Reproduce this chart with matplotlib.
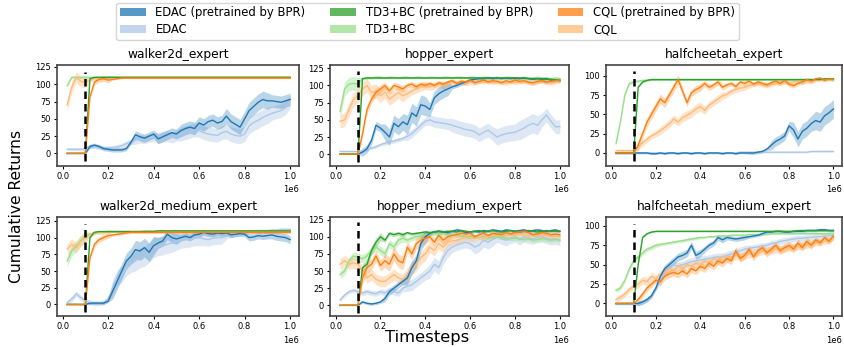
import numpy as np
import matplotlib.pyplot as plt
from matplotlib.patches import Patch

# timesteps: 0.02e6 ... 1.0e6
steps = np.round(np.arange(1, 51) * 0.02, 2) * 1e6

# ---------------- walker2d_expert ----------------
we_edac_bpr = [0, 0, 0, 0, 0, 10, 12, 10, 7, 6, 5, 5, 5, 7, 16, 27, 24, 22, 25, 28,
               21, 24, 27, 30, 28, 33, 36, 38, 36, 44, 41, 46, 48, 44, 46, 54, 46, 42, 38, 50,
               62, 68, 74, 78, 76, 76, 75, 74, 76, 78]
we_edac = [6, 6, 6, 6, 7, 11, 10, 9, 8, 8, 8, 9, 11, 14, 17, 19, 21, 20, 22, 24,
           22, 24, 25, 23, 26, 28, 30, 32, 34, 33, 30, 28, 27, 26, 30, 32, 28, 26, 25, 28,
           40, 45, 48, 52, 55, 58, 60, 62, 66, 75]
we_td3_bpr = [0, 0, 0, 0, 0, 108, 110, 110, 110, 110, 110, 110, 110, 110, 110, 110, 110, 110, 110, 110,
              110, 110, 110, 110, 110, 110, 110, 110, 110, 110, 110, 110, 110, 110, 110, 110, 110, 110, 110, 110,
              110, 110, 110, 110, 110, 110, 110, 110, 110, 110]
we_td3 = [98, 110, 110, 110, 110, 110, 110, 110, 110, 110, 110, 110, 110, 110, 110, 110, 110, 110, 110, 110,
          110, 110, 110, 110, 110, 110, 110, 110, 110, 110, 110, 110, 110, 110, 110, 110, 110, 110, 110, 110,
          110, 110, 110, 110, 110, 110, 110, 110, 110, 110]
we_cql_bpr = [0, 0, 0, 0, 0, 82, 103, 107, 108, 106, 107, 108, 109, 109, 109, 109, 109, 109, 109, 109,
              109, 109, 109, 109, 109, 109, 109, 109, 109, 109, 109, 109, 109, 109, 109, 109, 109, 109, 109, 109,
              109, 109, 109, 109, 109, 109, 109, 109, 109, 109]
we_cql = [70, 96, 110, 104, 103, 106, 108, 109, 110, 110, 110, 110, 110, 110, 110, 110, 110, 110, 110, 110,
          110, 110, 110, 110, 110, 110, 110, 110, 110, 110, 110, 110, 110, 110, 110, 110, 110, 110, 110, 110,
          110, 110, 110, 110, 110, 110, 110, 110, 110, 110]
we_sd = {"edac_bpr": [0, 3, 3, 6, 7, 9, 9, 11, 12, 9], "edac": [2, 3, 4, 6, 8, 10, 10, 11, 12, 10],
         "td3_bpr": [0, 1, 1, 1, 1, 1, 1, 1, 1, 1], "td3": [2, 1, 1, 1, 1, 1, 1, 1, 1, 1],
         "cql_bpr": [0, 4, 1, 1, 1, 1, 1, 1, 1, 1], "cql": [8, 3, 1, 1, 1, 1, 1, 1, 1, 1]}

# ---------------- hopper_expert ----------------
he_edac_bpr = [0, 0, 0, 0, 0, 3, 8, 20, 42, 38, 32, 25, 45, 40, 47, 43, 60, 55, 72, 70,
               65, 82, 88, 92, 95, 98, 100, 103, 105, 108, 109, 110, 110, 111, 110, 111, 110, 111, 110, 111,
               110, 111, 110, 109, 110, 109, 110, 108, 108, 107]
he_edac = [4, 4, 4, 4, 4, 5, 7, 9, 11, 14, 16, 18, 19, 21, 23, 26, 30, 36, 42, 48,
           50, 47, 46, 45, 44, 42, 40, 38, 36, 35, 33, 28, 32, 35, 30, 25, 28, 30, 31, 32,
           35, 38, 42, 45, 42, 50, 57, 48, 40, 40]
he_td3_bpr = [0, 0, 0, 0, 0, 110, 111, 111, 111, 111, 111, 111, 111, 111, 111, 111, 111, 111, 111, 111,
              111, 111, 111, 111, 111, 111, 111, 111, 111, 111, 111, 111, 111, 111, 111, 111, 111, 111, 111, 111,
              111, 111, 110, 110, 110, 110, 109, 109, 108, 108]
he_td3 = [62, 95, 102, 103, 102, 110, 111, 111, 112, 112, 111, 112, 112, 111, 112, 112, 111, 112, 112, 111,
          112, 112, 111, 112, 112, 111, 112, 112, 111, 112, 112, 111, 112, 112, 111, 112, 111, 112, 112, 111,
          111, 112, 111, 111, 112, 111, 111, 110, 111, 110]
he_cql_bpr = [0, 0, 0, 0, 0, 30, 65, 80, 90, 95, 100, 92, 100, 98, 95, 100, 102, 98, 102, 100,
              103, 100, 104, 102, 105, 107, 103, 106, 105, 108, 104, 106, 108, 105, 107, 106, 104, 107, 105, 108,
              106, 107, 105, 104, 106, 107, 105, 106, 107, 108]
he_cql = [48, 50, 65, 80, 85, 95, 100, 90, 92, 85, 90, 80, 85, 90, 85, 88, 92, 95, 98, 100,
          98, 100, 102, 100, 102, 105, 104, 106, 103, 105, 104, 106, 105, 107, 104, 106, 105, 103, 106, 104,
          105, 106, 104, 103, 105, 106, 104, 103, 105, 106]
he_sd = {"edac_bpr": [0, 6, 12, 14, 10, 3, 2, 2, 2, 2], "edac": [1, 2, 3, 6, 8, 10, 10, 12, 14, 10],
         "td3_bpr": [0, 1, 1, 1, 1, 1, 1, 1, 1, 1], "td3": [10, 2, 1, 1, 1, 1, 1, 1, 1, 1],
         "cql_bpr": [0, 6, 5, 4, 3, 3, 3, 3, 3, 3], "cql": [10, 10, 9, 6, 5, 4, 3, 3, 3, 3]}

# ---------------- halfcheetah_expert ----------------
hce_edac_bpr = [0, 0, 0, 0, 0, 0, 0, 0, -1, -1, 0, -1, 0, 0, -1, 0, 0, -1, 0, 0,
                -1, 0, 0, 0, -1, 0, 0, -1, 0, 0, 0, 0, 1, 2, 5, 10, 15, 18, 22, 35,
                30, 18, 28, 32, 38, 42, 40, 48, 52, 57]
hce_edac = [-1, -1, -1, -1, -1, 0, 0, 0, 0, 0, 0, 0, 0, 0, 0, 0, 0, 0, 0, 0,
            0, 0, 0, 0, 0, 0, 0, 0, 1, 1, 1, 1, 1, 1, 1, 1, 1, 1, 1, 1,
            1, 1, 1, 1, 2, 2, 2, 2, 2, 2]
hce_td3_bpr = [0, 0, 0, 0, 0, 85, 92, 94, 95, 95, 95, 95, 95, 95, 95, 95, 95, 95, 95, 95,
               95, 95, 95, 95, 95, 95, 95, 95, 95, 95, 95, 95, 95, 95, 95, 95, 95, 95, 95, 95,
               95, 95, 95, 95, 95, 95, 95, 96, 96, 96]
hce_td3 = [12, 40, 75, 90, 92, 93, 94, 94, 95, 95, 95, 95, 95, 95, 95, 95, 95, 95, 95, 95,
           95, 95, 95, 95, 95, 95, 95, 95, 95, 95, 95, 95, 95, 95, 95, 95, 95, 95, 95, 95,
           95, 95, 95, 95, 95, 95, 95, 95, 95, 95]
hce_cql_bpr = [0, 0, 0, 0, 0, 10, 25, 40, 50, 60, 70, 65, 75, 85, 95, 80, 65, 78, 82, 85,
               90, 85, 88, 92, 85, 88, 90, 86, 92, 90, 93, 89, 92, 90, 88, 91, 93, 90, 94, 89,
               87, 90, 92, 95, 93, 96, 97, 94, 96, 95]
hce_cql = [3, 3, 3, 3, 3, 8, 13, 18, 22, 25, 29, 33, 38, 44, 40, 46, 49, 52, 57, 60,
           55, 62, 66, 70, 74, 76, 80, 82, 84, 85, 87, 89, 90, 88, 88, 89, 90, 91, 92, 91,
           92, 93, 92, 93, 93, 94, 94, 95, 95, 95]
hce_sd = {"edac_bpr": [0, 1, 1, 1, 1, 1, 2, 6, 10, 12], "edac": [1, 1, 1, 1, 1, 1, 1, 1, 1, 1],
          "td3_bpr": [0, 1, 1, 1, 1, 1, 1, 1, 1, 1], "td3": [2, 1, 1, 1, 1, 1, 1, 1, 1, 1],
          "cql_bpr": [0, 6, 6, 5, 4, 3, 3, 3, 3, 2], "cql": [2, 4, 5, 6, 5, 4, 3, 3, 3, 2]}

# ---------------- walker2d_medium_expert ----------------
wme_edac_bpr = [0, 0, 0, 0, 0, 2, 2, 2, 2, 5, 20, 35, 50, 65, 72, 82, 80, 85, 78, 88,
                92, 95, 105, 100, 98, 100, 102, 100, 104, 105, 108, 106, 105, 107, 106, 107, 104, 105, 106, 105,
                100, 101, 103, 102, 103, 104, 102, 101, 100, 97]
wme_edac = [3, 8, 16, 10, 5, 3, 2, 2, 3, 8, 25, 40, 45, 55, 60, 65, 70, 72, 78, 85,
            87, 88, 90, 92, 95, 96, 97, 98, 100, 100, 98, 97, 99, 100, 100, 102, 104, 106, 107, 108,
            108, 109, 110, 110, 110, 111, 111, 112, 112, 112]
wme_td3_bpr = [0, 0, 0, 0, 0, 100, 108, 109, 109, 109, 109, 109, 109, 109, 109, 109, 109, 109, 109, 109,
               110, 110, 110, 110, 110, 110, 110, 110, 110, 110, 110, 110, 110, 110, 110, 110, 110, 110, 110, 110,
               110, 110, 110, 110, 110, 110, 110, 110, 110, 110]
wme_td3 = [65, 80, 88, 95, 103, 105, 107, 108, 108, 109, 109, 109, 109, 109, 109, 109, 109, 110, 110, 110,
           110, 110, 110, 110, 110, 110, 110, 110, 110, 110, 110, 110, 110, 110, 110, 110, 110, 110, 110, 110,
           110, 110, 110, 110, 110, 110, 110, 110, 110, 110]
wme_cql_bpr = [0, 0, 0, 0, 0, 70, 90, 97, 100, 103, 104, 105, 106, 107, 108, 108, 108, 108, 108, 108,
               108, 108, 108, 108, 108, 108, 108, 108, 108, 108, 108, 108, 108, 108, 108, 108, 108, 108, 108, 108,
               108, 108, 108, 108, 108, 108, 108, 108, 108, 108]
wme_cql = [83, 90, 85, 95, 100, 105, 107, 108, 108, 109, 109, 109, 109, 109, 109, 109, 109, 109, 109, 109,
           109, 109, 109, 109, 109, 109, 109, 109, 109, 109, 109, 109, 109, 109, 109, 109, 109, 109, 109, 109,
           109, 109, 109, 109, 109, 109, 109, 109, 109, 109]
wme_sd = {"edac_bpr": [0, 2, 12, 14, 8, 5, 4, 4, 5, 6], "edac": [4, 4, 12, 15, 14, 12, 10, 4, 3, 3],
          "td3_bpr": [0, 1, 1, 1, 1, 1, 1, 1, 1, 1], "td3": [8, 2, 1, 1, 1, 1, 1, 1, 1, 1],
          "cql_bpr": [0, 4, 2, 2, 2, 2, 2, 2, 2, 2], "cql": [8, 3, 2, 2, 2, 2, 2, 2, 2, 2]}

# ---------------- hopper_medium_expert ----------------
hme_edac_bpr = [0, 0, 0, 0, 0, 5, 3, 2, 3, 5, 10, 20, 25, 30, 35, 40, 55, 65, 90, 100,
                105, 107, 108, 107, 106, 108, 110, 109, 106, 107, 108, 107, 109, 108, 110, 109, 108, 110, 109, 108,
                109, 110, 108, 109, 110, 109, 108, 109, 110, 108]
hme_edac = [8, 15, 20, 22, 20, 18, 20, 18, 17, 20, 18, 22, 20, 18, 25, 28, 30, 35, 40, 45,
            50, 60, 55, 70, 80, 85, 88, 90, 92, 90, 85, 88, 95, 92, 96, 100, 97, 95, 98, 100,
            96, 100, 98, 97, 99, 100, 98, 96, 97, 95]
hme_td3_bpr = [0, 0, 0, 0, 0, 55, 60, 80, 92, 100, 95, 105, 103, 105, 103, 106, 104, 105, 106, 107,
               106, 107, 108, 107, 108, 108, 107, 109, 108, 107, 108, 109, 107, 108, 109, 108, 107, 108, 109, 108,
               107, 108, 109, 108, 107, 108, 109, 108, 108, 108]
hme_td3 = [45, 50, 65, 72, 70, 68, 72, 80, 85, 80, 75, 90, 85, 95, 98, 95, 98, 100, 101, 103,
           104, 105, 104, 105, 103, 102, 103, 101, 100, 100, 101, 99, 100, 98, 99, 100, 99, 98, 97, 98,
           97, 96, 97, 95, 96, 97, 96, 95, 96, 95]
hme_cql_bpr = [0, 0, 0, 0, 0, 40, 55, 60, 72, 58, 65, 60, 75, 65, 62, 85, 75, 90, 95, 98,
               100, 92, 102, 95, 100, 102, 103, 105, 104, 105, 100, 103, 105, 102, 105, 104, 103, 106, 104, 106,
               107, 108, 106, 103, 104, 106, 105, 103, 104, 103]
hme_cql = [60, 65, 60, 62, 60, 50, 40, 45, 38, 35, 35, 40, 45, 40, 38, 45, 55, 60, 70, 75,
           85, 80, 90, 85, 92, 94, 95, 97, 100, 98, 97, 100, 98, 100, 101, 103, 101, 102, 103, 102,
           104, 102, 101, 103, 102, 101, 102, 100, 101, 100]
hme_sd = {"edac_bpr": [0, 2, 5, 10, 3, 2, 2, 2, 2, 2], "edac": [3, 4, 5, 8, 10, 8, 10, 8, 8, 8],
          "td3_bpr": [0, 6, 3, 2, 2, 2, 2, 2, 2, 2], "td3": [6, 6, 6, 4, 3, 3, 3, 3, 3, 3],
          "cql_bpr": [0, 8, 10, 8, 6, 4, 3, 3, 3, 3], "cql": [8, 8, 8, 10, 8, 5, 4, 3, 3, 3]}

# ---------------- halfcheetah_medium_expert ----------------
hcme_edac_bpr = [0, 0, 0, 0, 0, 0, 2, 5, 10, 20, 35, 45, 50, 55, 60, 62, 65, 75, 62, 65,
                 70, 75, 78, 85, 82, 85, 84, 83, 84, 85, 86, 87, 88, 90, 92, 92, 93, 93, 92, 92,
                 93, 93, 93, 94, 94, 94, 95, 95, 94, 94]
hcme_edac = [-1, -1, -1, -1, -1, 0, 2, 5, 10, 20, 30, 40, 45, 50, 48, 50, 52, 54, 55, 56,
             57, 58, 59, 60, 60, 62, 64, 66, 68, 70, 71, 72, 73, 74, 75, 77, 78, 80, 81, 82,
             83, 84, 84, 85, 85, 86, 86, 87, 87, 88]
hcme_td3_bpr = [0, 0, 0, 0, 0, 50, 85, 90, 92, 93, 93, 93, 93, 93, 93, 93, 93, 93, 93, 93,
                93, 93, 93, 93, 93, 93, 93, 93, 93, 93, 93, 93, 93, 93, 93, 93, 93, 93, 93, 93,
                93, 94, 94, 94, 94, 94, 94, 94, 94, 94]
hcme_td3 = [17, 20, 30, 45, 55, 60, 65, 70, 72, 75, 76, 77, 78, 79, 80, 81, 82, 83, 84, 85,
            85, 86, 86, 87, 87, 87, 88, 88, 88, 88, 89, 89, 89, 89, 89, 90, 90, 90, 90, 90,
            90, 90, 90, 90, 90, 90, 90, 90, 90, 90]
hcme_cql_bpr = [0, 0, 0, 0, 0, 5, 12, 20, 25, 30, 28, 35, 38, 40, 38, 42, 38, 45, 42, 48,
                45, 52, 48, 55, 52, 58, 55, 68, 58, 62, 70, 60, 68, 72, 65, 70, 75, 68, 72, 75,
                70, 78, 72, 80, 75, 82, 78, 85, 80, 87]
hcme_cql = [5, 8, 12, 18, 22, 25, 30, 28, 35, 32, 38, 40, 45, 42, 48, 45, 50, 48, 52, 50,
            55, 52, 58, 55, 60, 58, 60, 62, 60, 62, 64, 65, 66, 68, 68, 69, 70, 70, 71, 72,
            73, 74, 75, 76, 77, 78, 79, 80, 82, 85]
hcme_sd = {"edac_bpr": [0, 3, 5, 5, 4, 3, 2, 2, 2, 2], "edac": [1, 3, 5, 5, 5, 5, 4, 4, 4, 4],
           "td3_bpr": [0, 1, 1, 1, 1, 1, 1, 1, 1, 1], "td3": [3, 3, 2, 2, 1, 1, 1, 1, 1, 1],
           "cql_bpr": [0, 4, 5, 5, 5, 5, 5, 5, 5, 4], "cql": [4, 5, 5, 5, 5, 5, 5, 5, 5, 4]}

titles = ["walker2d_expert", "hopper_expert", "halfcheetah_expert",
          "walker2d_medium_expert", "hopper_medium_expert", "halfcheetah_medium_expert"]
ylims = [(-18, 128), (-17, 130), (-16.7, 114), (-17.4, 131), (-15.7, 129), (-16.3, 111.6)]
vline_tops = [118, 121, 106, 121, 121, 103]

panels = [
    (we_edac, we_td3, we_cql, we_edac_bpr, we_td3_bpr, we_cql_bpr, we_sd),
    (he_edac, he_td3, he_cql, he_edac_bpr, he_td3_bpr, he_cql_bpr, he_sd),
    (hce_edac, hce_td3, hce_cql, hce_edac_bpr, hce_td3_bpr, hce_cql_bpr, hce_sd),
    (wme_edac, wme_td3, wme_cql, wme_edac_bpr, wme_td3_bpr, wme_cql_bpr, wme_sd),
    (hme_edac, hme_td3, hme_cql, hme_edac_bpr, hme_td3_bpr, hme_cql_bpr, hme_sd),
    (hcme_edac, hcme_td3, hcme_cql, hcme_edac_bpr, hcme_td3_bpr, hcme_cql_bpr, hcme_sd),
]

keys = ["edac", "td3", "cql", "edac_bpr", "td3_bpr", "cql_bpr"]
colors = {"edac_bpr": "#1f77b4", "edac": "#aec7e8", "td3_bpr": "#2ca02c",
          "td3": "#98df8a", "cql_bpr": "#ff7f0e", "cql": "#ffbb78"}
labels = {"edac_bpr": "EDAC (pretrained by BPR)", "edac": "EDAC",
          "td3_bpr": "TD3+BC (pretrained by BPR)", "td3": "TD3+BC",
          "cql_bpr": "CQL (pretrained by BPR)", "cql": "CQL"}

# ---------------- FIGURE ----------------
fig = plt.figure(figsize=(8.44, 3.47), dpi=100)

lefts = [0.0675, 0.391, 0.718]
widths = [0.287, 0.283, 0.28]
bottoms = [0.522, 0.089]
heights = [0.291, 0.286]

for i, panel in enumerate(panels):
    r, c = divmod(i, 3)
    ax = fig.add_axes([lefts[c], bottoms[r], widths[c], heights[r]])
    sd = panel[6]
    for k, vals in zip(keys, panel[:6]):
        y = np.array(vals, dtype=float)
        s = np.repeat(np.array(sd[k], dtype=float), 5)
        col = colors[k]
        if k.endswith("_bpr"):
            mask = steps >= 1e5
            ax.fill_between(steps[mask], (y - s)[mask], (y + s)[mask], color=col, alpha=0.3, lw=0)
        else:
            ax.fill_between(steps, y - s, y + s, color=col, alpha=0.4, lw=0)
        ax.plot(steps, y, color=col, lw=1.0)

    ax.vlines(1e5, -11, vline_tops[i], colors="black", linestyles=(0, (3, 2)), lw=1.8, zorder=5)
    ax.set_xlim(-0.025e6, 1.04e6)
    ax.set_ylim(*ylims[i])
    if c == 2:
        ax.set_yticks([0, 25, 50, 75, 100])
    else:
        ax.set_yticks([0, 25, 50, 75, 100, 125])
    ax.set_xticks([0, 0.2e6, 0.4e6, 0.6e6, 0.8e6, 1.0e6])
    ax.tick_params(labelsize=6, length=2.5, width=0.8, pad=2)
    ax.xaxis.get_offset_text().set_fontsize(6)
    ax.set_title(titles[i], fontsize=8.8, pad=5)
    for sp in ax.spines.values():
        sp.set_color("#444444")
        sp.set_linewidth(1.2)

handles = [Patch(facecolor=colors[k], alpha=0.75, label=labels[k])
           for k in ["edac_bpr", "edac", "td3_bpr", "td3", "cql_bpr", "cql"]]
fig.legend(handles=handles, loc="upper center", bbox_to_anchor=(0.5065, 0.995), ncol=3,
           fontsize=8.4, frameon=True, edgecolor="#cccccc", handlelength=2.2, handletextpad=0.85,
           columnspacing=2.1, borderpad=0.3, labelspacing=0.35, borderaxespad=0.1)

fig.text(0.020, 0.406, "Cumulative Returns", rotation=90, fontsize=11.2, ha="center", va="center")
fig.text(0.506, 0.015, "Timesteps", fontsize=11.8, ha="center", va="baseline")

fig.savefig("out.png", dpi=100)
